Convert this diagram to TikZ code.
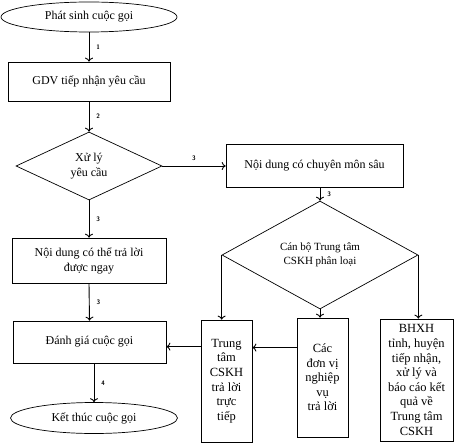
\documentclass[tikz,border=0pt]{standalone}
\usepackage{fontspec}
\setmainfont{Liberation Serif}
\usetikzlibrary{shapes.geometric,arrows.meta,calc}
\begin{document}
\begin{tikzpicture}[x=1pt,y=-1pt,
  every node/.style={inner sep=1pt, font=\fontsize{12}{15}\selectfont},
  box/.style={draw, line width=0.7pt, rectangle, align=center},
  tall/.style={box, font=\fontsize{12.5}{14.6}\selectfont},
  oval/.style={draw, line width=0.7pt, ellipse},
  dia/.style={draw, line width=0.7pt, diamond, align=center},
  conn/.style={line width=0.9pt, -{To[length=4pt,width=8pt]}},
  num/.style={font=\fontsize{6.5}{7}\selectfont\bfseries\sffamily}]
\useasboundingbox (0,0) rectangle (454,446);

\node[oval, minimum width=176, minimum height=30] (start) at (89,17) {Phát sinh cuộc gọi};
\node[box, minimum width=162, minimum height=39] (gdv) at (89,81.5) {GDV tiếp nhận yêu cầu};
\node[dia, minimum width=146, minimum height=68] (xuly) at (89,166) {Xử lý\\yêu cầu};
\node[box, minimum width=177, minimum height=43] (chuyen) at (314.5,165.5) {Nội dung có chuyên môn sâu};
\node[box, minimum width=154, minimum height=45] (ngay) at (89,260.5) {Nội dung có thể trả lời\\được ngay};
\node[box, minimum width=153, minimum height=42] (danhgia) at (89.5,342) {Đánh giá cuộc gọi};
\node[oval, minimum width=167, minimum height=31] (ketthuc) at (94,418) {Kết thúc cuộc gọi};
\node[dia, minimum width=196, minimum height=70, font=\fontsize{11}{14}\selectfont] (canbo) at (320,255) {Cán bộ Trung tâm\\CSKH phân loại};
\node[tall, minimum width=51, minimum height=122] (tt) at (226.5,381) {Trung\\tâm\\CSKH\\trả lời\\trực\\tiếp};
\node[tall, minimum width=51, minimum height=119] (dv) at (322.5,377.5) {Các\\đơn vị\\nghiệp\\vụ\\trả lời};
\node[tall, minimum width=73, minimum height=122] (bhxh) at (416.5,380) {BHXH\\tỉnh, huyện\\tiếp nhận,\\xử lý và\\báo cáo kết\\quả về\\Trung tâm\\CSKH};

\draw[conn] (start.south) -- node[num, right=6pt] {1} (gdv.north);
\draw[conn] (gdv.south) -- node[num, right=6pt] {2} (xuly.north);
\draw[conn] (xuly.east) -- node[num, above=4pt] {3} (xuly.east -| chuyen.west);
\draw[conn] (xuly.south) -- node[num, right=6pt] {3} (ngay.north);
\draw[conn] (ngay.south) -- node[num, right=6pt] {3} (danhgia.north);
\draw[conn] (ketthuc.north |- danhgia.south) -- node[num, right=6pt] {4} (ketthuc.north);
\draw[conn] (canbo.north |- chuyen.south) -- node[num, right=6pt] {3} (canbo.north);
\draw[conn] (canbo.west) -- (canbo.west |- tt.north);
\draw[conn] (canbo.south) -- (canbo.south |- dv.north);
\draw[conn] (canbo.east) -- (canbo.east |- bhxh.north);
\coordinate (dvout) at ($(dv.north west)!0.25!(dv.south west)$);
\coordinate (ttout) at ($(tt.north west)!0.22!(tt.south west)$);
\draw[conn] (dvout) -- (dvout -| tt.east);
\draw[conn] (ttout) -- (ttout -| danhgia.east);
\end{tikzpicture}
\end{document}
